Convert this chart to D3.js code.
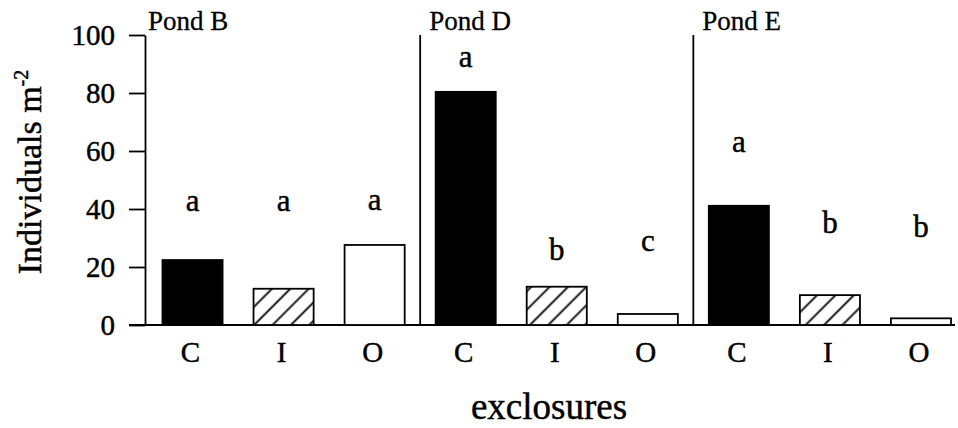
<!DOCTYPE html>
<meta charset="utf-8">
<style>
  body { margin: 0; background: #fff; }
  svg { display: block; font-family: "Liberation Serif", "DejaVu Serif", serif; }
  svg text { stroke: #000; stroke-width: 0.45px; }
</style>
<body></body>
<script src="https://cdn.jsdelivr.net/npm/d3@7"></script>
<script>
  const width = 958
  const height = 428

  // data
  const ponds = ["Pond B", "Pond D", "Pond E"]
  const treatments = ["C", "I", "O"]
  const pondB = [22.4, 12.5, 27.6]
  const pondD = [80.4, 13.2, 3.8]
  const pondE = [41.1, 10.3, 2.3]
  const lettersB = ["a", "a", "a"]
  const lettersD = ["a", "b", "c"]
  const lettersE = ["a", "b", "b"]
  // height (in individuals m-2) where each significance letter sits
  const letterLevelB = [39.3, 39.3, 39.6]
  const letterLevelD = [88.8, 22.4, 25.4]
  const letterLevelE = [59.8, 31.6, 30.5]
  const yTicks = [0, 20, 40, 60, 80, 100]

  const pondValues = [pondB, pondD, pondE]
  const pondLetters = [lettersB, lettersD, lettersE]
  const pondLetterLevels = [letterLevelB, letterLevelD, letterLevelE]

  const bars = []
  ponds.forEach((pond, p) => {
    treatments.forEach((t, i) => {
      bars.push({
        id: pond + "-" + t,
        pond: pond,
        treatment: t,
        value: pondValues[p][i],
        letter: pondLetters[p][i],
        letterLevel: pondLetterLevels[p][i]
      })
    })
  })

  const x = d3.scaleBand()
    .domain(bars.map(d => d.id))
    .range([147, 966.5])
    .paddingInner(0.34)
    .paddingOuter(0.17)

  const y = d3.scaleLinear()
    .domain([0, 100])
    .range([325, 35])

  const axisX = 145

  const svg = d3.select("body").append("svg")
    .attr("width", width)
    .attr("height", height)

  const defs = svg.append("defs")
  const hatch = defs.append("pattern")
    .attr("id", "hatch")
    .attr("patternUnits", "userSpaceOnUse")
    .attr("width", 13)
    .attr("height", 13)
    .attr("patternTransform", "rotate(45)")
  hatch.append("rect")
    .attr("width", 13).attr("height", 13).attr("fill", "#fff")
  hatch.append("line")
    .attr("x1", 6.5).attr("y1", 0).attr("x2", 6.5).attr("y2", 13)
    .attr("stroke", "#000").attr("stroke-width", 1.8)

  const fills = { C: "#000", I: "url(#hatch)", O: "#fff" }

  // y axis
  svg.append("g")
    .attr("class", "axis axis--y")
    .attr("transform", `translate(${axisX}, 0)`)
    .call(d3.axisLeft(y).tickValues(yTicks).tickSize(16).tickSizeOuter(0).tickPadding(14))
    .call(g => g.selectAll("path, line").attr("stroke", "#000").attr("stroke-width", 1.8))
    .call(g => g.selectAll("text")
      .attr("fill", "#000")
      .style("font-family", "'Liberation Serif', serif")
      .style("font-size", "29px"))

  // baseline
  svg.append("line")
    .attr("x1", axisX - 16)
    .attr("x2", 955)
    .attr("y1", y(0))
    .attr("y2", y(0))
    .attr("stroke", "#000")
    .attr("stroke-width", 1.8)

  // pond dividers
  const gap = (x.step() - x.bandwidth()) / 2
  const groupLeft = ponds.map((pond, p) => p === 0 ? axisX : x(pond + "-C") - gap)

  svg.selectAll("line.divider")
    .data(groupLeft.slice(1))
    .enter()
    .append("line")
    .attr("class", "divider")
    .attr("x1", d => d)
    .attr("x2", d => d)
    .attr("y1", y(100))
    .attr("y2", y(0))
    .attr("stroke", "#000")
    .attr("stroke-width", 1.8)

  svg.selectAll("text.pond")
    .data(ponds)
    .enter()
    .append("text")
    .attr("class", "pond")
    .attr("x", (d, i) => groupLeft[i] + (i === 0 ? 3 : 9))
    .attr("y", 30)
    .style("font-size", "27px")
    .style("stroke-width", "0.3px")
    .text(d => d)

  // bars
  svg.append("g")
    .selectAll("rect")
    .data(bars)
    .enter()
    .append("rect")
    .attr("x", d => x(d.id))
    .attr("y", d => y(d.value))
    .attr("width", x.bandwidth())
    .attr("height", d => y(0) - y(d.value))
    .attr("fill", d => fills[d.treatment])
    .attr("stroke", "#000")
    .attr("stroke-width", 1.8)

  // significance letters
  svg.append("g")
    .selectAll("text")
    .data(bars)
    .enter()
    .append("text")
    .attr("x", d => x(d.id) + x.bandwidth() / 2)
    .attr("y", d => y(d.letterLevel))
    .attr("text-anchor", "middle")
    .style("font-size", "31px")
    .text(d => d.letter)

  // treatment labels
  svg.append("g")
    .selectAll("text")
    .data(bars)
    .enter()
    .append("text")
    .attr("x", d => x(d.id) + x.bandwidth() / 2 - 2)
    .attr("y", 362)
    .attr("text-anchor", "middle")
    .style("font-size", "29px")
    .text(d => d.treatment)

  svg.append("text")
    .attr("x", 549)
    .attr("y", 419)
    .attr("text-anchor", "middle")
    .style("font-size", "37px")
    .text("exclosures")

  const yLabel = svg.append("text")
    .attr("transform", "translate(41, 172) rotate(-90)")
    .attr("text-anchor", "middle")
    .style("font-size", "34px")
  yLabel.append("tspan").text("Individuals m")
  yLabel.append("tspan")
    .attr("dy", -13)
    .style("font-size", "20px")
    .text("-2")
</script>
